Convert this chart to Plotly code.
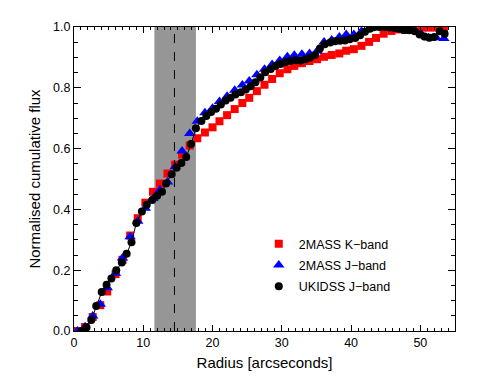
import plotly.graph_objects as go

# 2MASS K-band (red squares)
k_radius = [0.5, 1.6, 2.7, 3.8, 4.8, 6.0, 7.0, 8.1, 9.2, 10.3, 11.4, 12.4, 13.5, 14.6, 15.6,
            16.7, 17.8, 18.9, 20.0, 21.0, 22.1, 23.2, 24.3, 25.3, 26.4, 27.5, 28.6, 29.7, 30.8,
            31.8, 32.9, 34.0, 35.1, 36.1, 37.2, 38.3, 39.3, 40.4, 41.5, 42.6, 43.6, 44.7, 45.8,
            46.9, 48.0, 49.0, 50.2, 51.2, 52.3, 53.4]
k_flux = [0.0, 0.013, 0.046, 0.085, 0.13, 0.187, 0.234, 0.314, 0.371, 0.422, 0.458, 0.485, 0.518,
          0.547, 0.58, 0.61, 0.634, 0.653, 0.67, 0.69, 0.71, 0.73, 0.75, 0.767, 0.789, 0.81, 0.829,
          0.848, 0.861, 0.872, 0.881, 0.888, 0.894, 0.902, 0.908, 0.913, 0.922, 0.927, 0.938, 0.951,
          0.964, 0.978, 0.987, 0.992, 0.998, 1.0, 0.998, 0.998, 0.998, 0.995]

# 2MASS J-band (blue triangles), same radii as K-band
j_radius = k_radius
j_flux = [0.0, 0.014, 0.049, 0.088, 0.142, 0.19, 0.24, 0.31, 0.361, 0.404, 0.436, 0.464, 0.49,
          0.54, 0.592, 0.65, 0.69, 0.718, 0.733, 0.755, 0.772, 0.792, 0.809, 0.822, 0.843, 0.861,
          0.877, 0.89, 0.902, 0.907, 0.91, 0.913, 0.921, 0.951, 0.957, 0.967, 0.975, 0.975, 0.986,
          0.994, 0.998, 1.0, 0.998, 0.994, 0.986, 0.986, 0.975, 0.965, 0.965, 0.962]

# UKIDSS J-band (black circles + line)
u_radius = [1.1, 1.8, 2.5, 3.2, 4.0, 4.7, 5.4, 6.1, 6.9, 7.6, 8.3, 9.0, 9.8, 10.5, 11.3, 12.0,
            12.7, 13.3, 14.1, 14.8, 15.5, 16.2, 16.9, 17.6, 18.4, 19.1, 19.8, 20.5, 21.2, 21.9,
            22.6, 23.3, 24.1, 24.8, 25.5, 26.2, 26.9, 27.6, 28.4, 29.1, 29.8, 30.5, 31.2, 32.0,
            32.7, 33.4, 34.1, 34.8, 35.5, 36.2, 37.0, 37.7, 38.4, 39.1, 39.8, 40.6, 41.3, 42.0,
            42.7, 43.4, 44.1, 44.9, 45.6, 46.3, 47.0, 47.7, 48.4, 49.2, 49.9, 50.6, 51.3, 52.0,
            52.8, 53.5]
u_flux = [0.0, 0.012, 0.036, 0.082, 0.128, 0.152, 0.173, 0.2, 0.225, 0.254, 0.292, 0.355, 0.393,
          0.415, 0.431, 0.445, 0.458, 0.485, 0.516, 0.537, 0.553, 0.572, 0.615, 0.667, 0.691,
          0.707, 0.72, 0.731, 0.745, 0.758, 0.767, 0.778, 0.785, 0.794, 0.805, 0.818, 0.834,
          0.851, 0.862, 0.872, 0.878, 0.884, 0.888, 0.891,
          0.89, 0.894, 0.9, 0.908, 0.929, 0.943, 0.949, 0.953, 0.955, 0.956, 0.96, 0.964, 0.973,
          0.984, 0.994, 1.0, 1.0, 1.0, 0.998, 0.997, 0.994, 0.99, 0.989, 0.986, 0.975, 0.969,
          0.965, 0.967, 0.986, 0.978]

# shaded region and its centre
band_lo, band_hi = 11.6, 17.6
band_mid = 14.5

FONT = "Liberation Sans, Arial, sans-serif"

fig = go.Figure()
fig.add_vrect(x0=band_lo, x1=band_hi, y0=0, y1=1, yref="y",
              fillcolor="rgb(150,150,150)", line_width=0, layer="below")
fig.add_shape(type="line", x0=band_mid, x1=band_mid, y0=0, y1=1, yref="y",
              line=dict(color="black", width=1, dash="dash"))

fig.add_trace(go.Scatter(
    x=k_radius, y=k_flux, mode="markers", name="2MASS K−band", legendgroup="k",
    marker=dict(symbol="square", size=8, color="#ff0000"),
))
fig.add_trace(go.Scatter(
    x=j_radius, y=j_flux, mode="markers", name="2MASS J−band", legendgroup="j",
    marker=dict(symbol="triangle-up", size=10, color="#0000ff"),
))
# connecting line for UKIDSS, kept out of the legend
fig.add_trace(go.Scatter(
    x=u_radius, y=u_flux, mode="lines", showlegend=False, legendgroup="u",
    line=dict(color="black", width=1), hoverinfo="skip",
))
fig.add_trace(go.Scatter(
    x=u_radius, y=u_flux, mode="markers", name="UKIDSS J−band", legendgroup="u",
    marker=dict(symbol="circle", size=8, color="black"),
))

fig.update_layout(
    width=469, height=373,
    margin=dict(l=66, r=22, t=15, b=50),
    paper_bgcolor="white", plot_bgcolor="white",
    font=dict(family=FONT, size=12.5, color="black"),
    showlegend=True,
    legend=dict(x=0.485, y=0.335, xanchor="left", yanchor="top",
                bgcolor="rgba(0,0,0,0)", tracegroupgap=2,
                font=dict(family=FONT, size=12.5)),
)
fig.update_xaxes(
    range=[0, 55], title_text="Radius [arcseconds]", title_standoff=8,
    tickvals=[0, 10, 20, 30, 40, 50],
    showline=True, linecolor="black", linewidth=1, mirror="ticks",
    ticks="inside", ticklen=6, tickcolor="black", showgrid=False, zeroline=False,
    minor=dict(dtick=1, ticks="inside", ticklen=3, tickcolor="black", showgrid=False),
)
fig.update_yaxes(
    range=[0, 1.0], title_text="Normalised cumulative flux", title_standoff=8,
    tickvals=[0, 0.2, 0.4, 0.6, 0.8, 1.0], tickformat=".1f",
    showline=True, linecolor="black", linewidth=1, mirror="ticks",
    ticks="inside", ticklen=7, tickcolor="black", showgrid=False, zeroline=False,
    minor=dict(dtick=0.05, ticks="inside", ticklen=4, tickcolor="black", showgrid=False),
)

fig.write_html("out.html")
